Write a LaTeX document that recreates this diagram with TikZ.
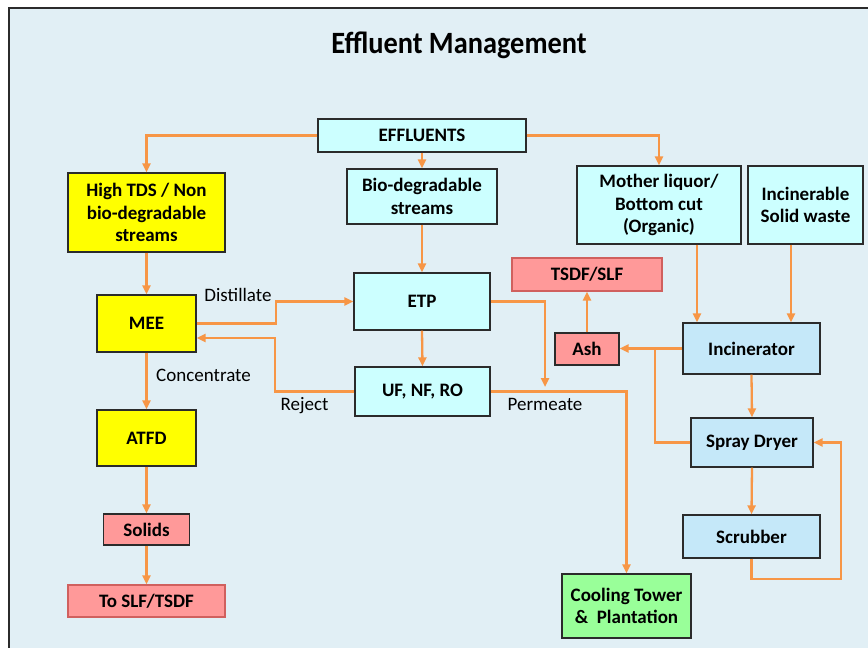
\documentclass[tikz,border=0pt]{standalone}
\usepackage{fontspec}
\setmainfont{Carlito}
\usetikzlibrary{arrows.meta,calc}

\definecolor{bgc}{HTML}{E1EFF5}
\definecolor{flow}{HTML}{F79646}
\definecolor{cyanbox}{HTML}{CCFFFF}
\definecolor{bluebox}{HTML}{C5E8F9}
\definecolor{yellowbox}{HTML}{FFFF00}
\definecolor{pinkbox}{HTML}{FF9999}
\definecolor{greenbox}{HTML}{99FF99}
\definecolor{pinkedge}{HTML}{D0605E}
\definecolor{edgec}{HTML}{2B2B2B}

\tikzset{
  box/.style={draw=edgec, line width=1.4pt, inner sep=0pt, align=center,
    font=\fontsize{19}{22.5}\selectfont\bfseries},
  cyanb/.style={box, fill=cyanbox},
  blueb/.style={box, fill=bluebox},
  yellowb/.style={box, fill=yellowbox},
  pinkb/.style={box, fill=pinkbox},
  pinkr/.style={box, fill=pinkbox, draw=pinkedge},
  greenb/.style={box, fill=greenbox},
  arr/.style={draw=flow, line width=2.3pt, -{Triangle[length=9pt,width=8pt]}},
  flowline/.style={draw=flow, line width=2.3pt},
  lbl/.style={font=\fontsize{19}{22.5}\selectfont, anchor=base, inner sep=0pt},
  sz/.style 2 args={minimum width=#1pt, minimum height=#2pt}
}

\begin{document}
\begin{tikzpicture}[x=1pt,y=-1pt]
\useasboundingbox (0,0) rectangle (868,648);
% slide background and frame
\fill[bgc] (9,7.5) rectangle (868,648);
\draw[edgec, line width=2pt] (9,650) -- (9,7.5) -- (870,7.5);

% title
\node[anchor=base, inner sep=0pt, font=\fontsize{31}{36}\selectfont\bfseries] (title) at (459,53)
  {\scalebox{0.915}[1]{Effluent Management}};

% process boxes
\node[cyanb, sz={208}{33}] (eff) at (422,135.5) {EFFLUENTS};
\node[yellowb, sz={157}{79}] (tds) at (146.5,212.5) {High TDS / Non\\bio-degradable\\streams};
\node[cyanb, sz={150}{55}] (bio) at (422,196.5) {Bio-degradable\\streams};
\node[cyanb, sz={164}{78}] (moth) at (659,205) {Mother liquor/\\Bottom cut\\(Organic)};
\node[cyanb, sz={115}{78}] (inc) at (805.5,205) {Incinerable\\Solid waste};
\node[yellowb, sz={99}{57}] (mee) at (146.5,323.5) {MEE};
\node[cyanb, sz={136}{57}] (etp) at (422,301.5) {ETP};
\node[pinkr, sz={150}{33}] (tsdf) at (587,274.5) {TSDF/SLF};
\node[pinkb, sz={64}{32}] (ash) at (587,349) {Ash};
\node[blueb, sz={137}{51}] (incin) at (751.5,348.5) {Incinerator};
\node[cyanb, sz={135}{49}] (uf) at (422.5,391.5) {UF, NF, RO};
\node[blueb, sz={122}{49}] (spray) at (752,442.5) {Spray Dryer};
\node[yellowb, sz={99}{56}] (atfd) at (146.5,438) {ATFD};
\node[pinkb, sz={86}{31}] (solids) at (146.5,529.5) {Solids};
\node[pinkr, sz={157}{32}] (slf) at (146.5,601) {To SLF/TSDF};
\node[blueb, sz={137}{43}] (scrub) at (751.5,536.5) {Scrubber};
\node[greenb, sz={129}{64}] (cool) at (626.5,606) {Cooling Tower\\\&\ \ Plantation};

% free ends and junctions
\coordinate (permtip) at (545,387);
\coordinate (ashjoin) at (655,348.5);

% connectors from the effluent header
\draw[arr] (eff.west) -| (tds.north);
\draw[arr] (eff.south) -- (bio.north);
\draw[arr] (eff.east) -| (moth.north);
\draw[arr] (bio.south) -- (etp.north);

% high TDS train
\draw[arr] (tds.south) -- (mee.north);
\draw[arr] (mee.east) -- ++(79.5,0) |- (etp.west);
\draw[arr] (uf.west) -- ++(-79,0) |- ([yshift=-14.5pt]mee.east);
\draw[arr] (mee.south) -- (atfd.north);
\draw[arr] (atfd.south) -- (solids.north);
\draw[arr] (solids.south) -- (slf.north);

% biological train
\draw[arr] (etp.south) -- (uf.north);
\draw[arr] (etp.east) -| (permtip);
\draw[arr] (uf.east) -| (cool.north);

% incineration train
\draw[arr] ([xshift=38pt]moth.south) -- ([xshift=38pt]moth.south |- incin.north);
\draw[arr] ([xshift=-14.5pt]inc.south) -- ([xshift=-14.5pt]inc.south |- incin.north);
\draw[arr] (incin.west) -- (ash.east |- incin.west);
\draw[flowline] (spray.west) -| (ashjoin);
\draw[arr] (ash.north) -- (tsdf.south);
\draw[arr] (incin.south) -- (spray.north);
\draw[arr] (spray.south) -- (scrub.north);
\draw[arr] (scrub.south) -- ++(0,20) -- ++(89.5,0) |- (spray.east);

% stream labels
\node[lbl] (ldist) at (238,301.5) {Distillate};
\node[lbl] (lconc) at (203.5,381.5) {Concentrate};
\node[lbl] (lrej) at (304.5,410.5) {Reject};
\node[lbl] (lperm) at (545,410.5) {Permeate};
\end{tikzpicture}
\end{document}
